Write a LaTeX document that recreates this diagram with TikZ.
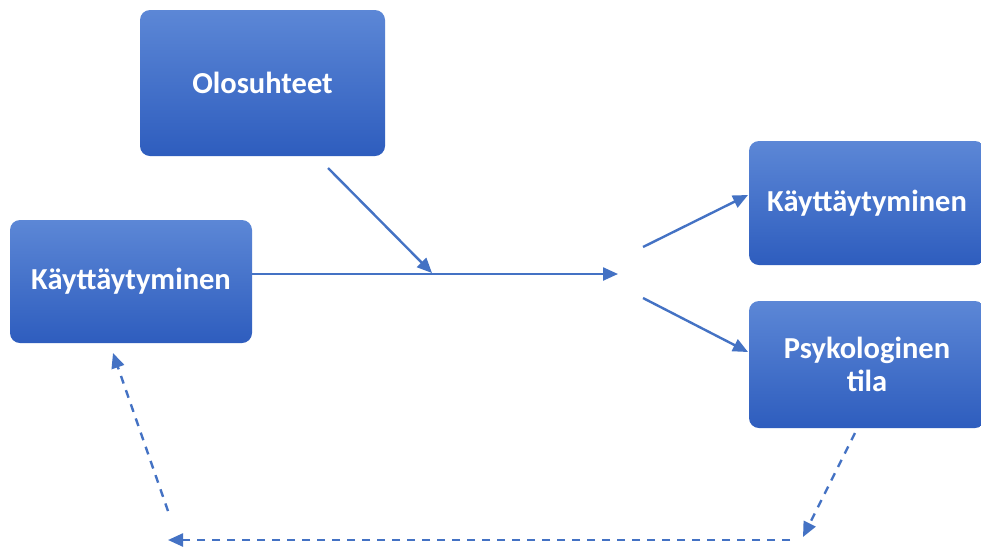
\documentclass[tikz,border=0pt]{standalone}
\usepackage{fontspec}
\setmainfont{Carlito}
\usetikzlibrary{arrows.meta}
\definecolor{boxtop}{RGB}{92,135,214}
\definecolor{boxbot}{RGB}{46,93,190}
\definecolor{linkblue}{RGB}{68,114,196}
\tikzset{
  stepbox/.style={rectangle, rounded corners=10pt, top color=boxtop, bottom color=boxbot,
    draw=none, text=white, font=\bfseries\fontsize{30.5}{33}\selectfont, align=center,
    inner sep=0pt},
  link/.style={draw=linkblue, line width=2.4pt, -{Triangle[length=15pt,width=13pt]}},
  backlink/.style={link, dash pattern=on 8pt off 7pt}
}
\begin{document}
\begin{tikzpicture}[x=1pt,y=-1pt]
  \clip (0,0) rectangle (981,547);
  \fill[white] (0,0) rectangle (981,547);

  % boxes
  \node[stepbox, minimum width=245pt, minimum height=146pt] (olo) at (262.5,83) {Olosuhteet};
  \node[stepbox, minimum width=242pt, minimum height=123pt] (kin) at (131,281.5) {Käyttäytyminen};
  \node[stepbox, minimum width=236pt, minimum height=124pt] (kout) at (867,203) {Käyttäytyminen};
  \node[stepbox, minimum width=236pt, minimum height=127pt] (psy) at (867,364.5) {Psykologinen\\tila};

  % junction points
  \coordinate (mainend) at (618,274);
  \coordinate (oloA) at (328,168);
  \coordinate (oloB) at (432,273);
  \coordinate (upA) at (643,247);
  \coordinate (upB) at (748,195);
  \coordinate (dnA) at (643,298);
  \coordinate (dnB) at (748,352);
  \coordinate (fbA) at (855,433);
  \coordinate (fbB) at (803,537);
  \coordinate (fbC) at (790,540);
  \coordinate (fbD) at (168,540);
  \coordinate (fbE) at (168,511);
  \coordinate (fbF) at (113,353);

  % solid connectors
  \draw[link] (kin.east |- mainend) -- (mainend);
  \draw[link] (oloA) -- (oloB);
  \draw[link] (upA) -- (upB);
  \draw[link] (dnA) -- (dnB);

  % dashed feedback loop
  \draw[backlink] (fbA) -- (fbB);
  \draw[backlink] (fbC) -- (fbD);
  \draw[backlink] (fbE) -- (fbF);
\end{tikzpicture}
\end{document}
